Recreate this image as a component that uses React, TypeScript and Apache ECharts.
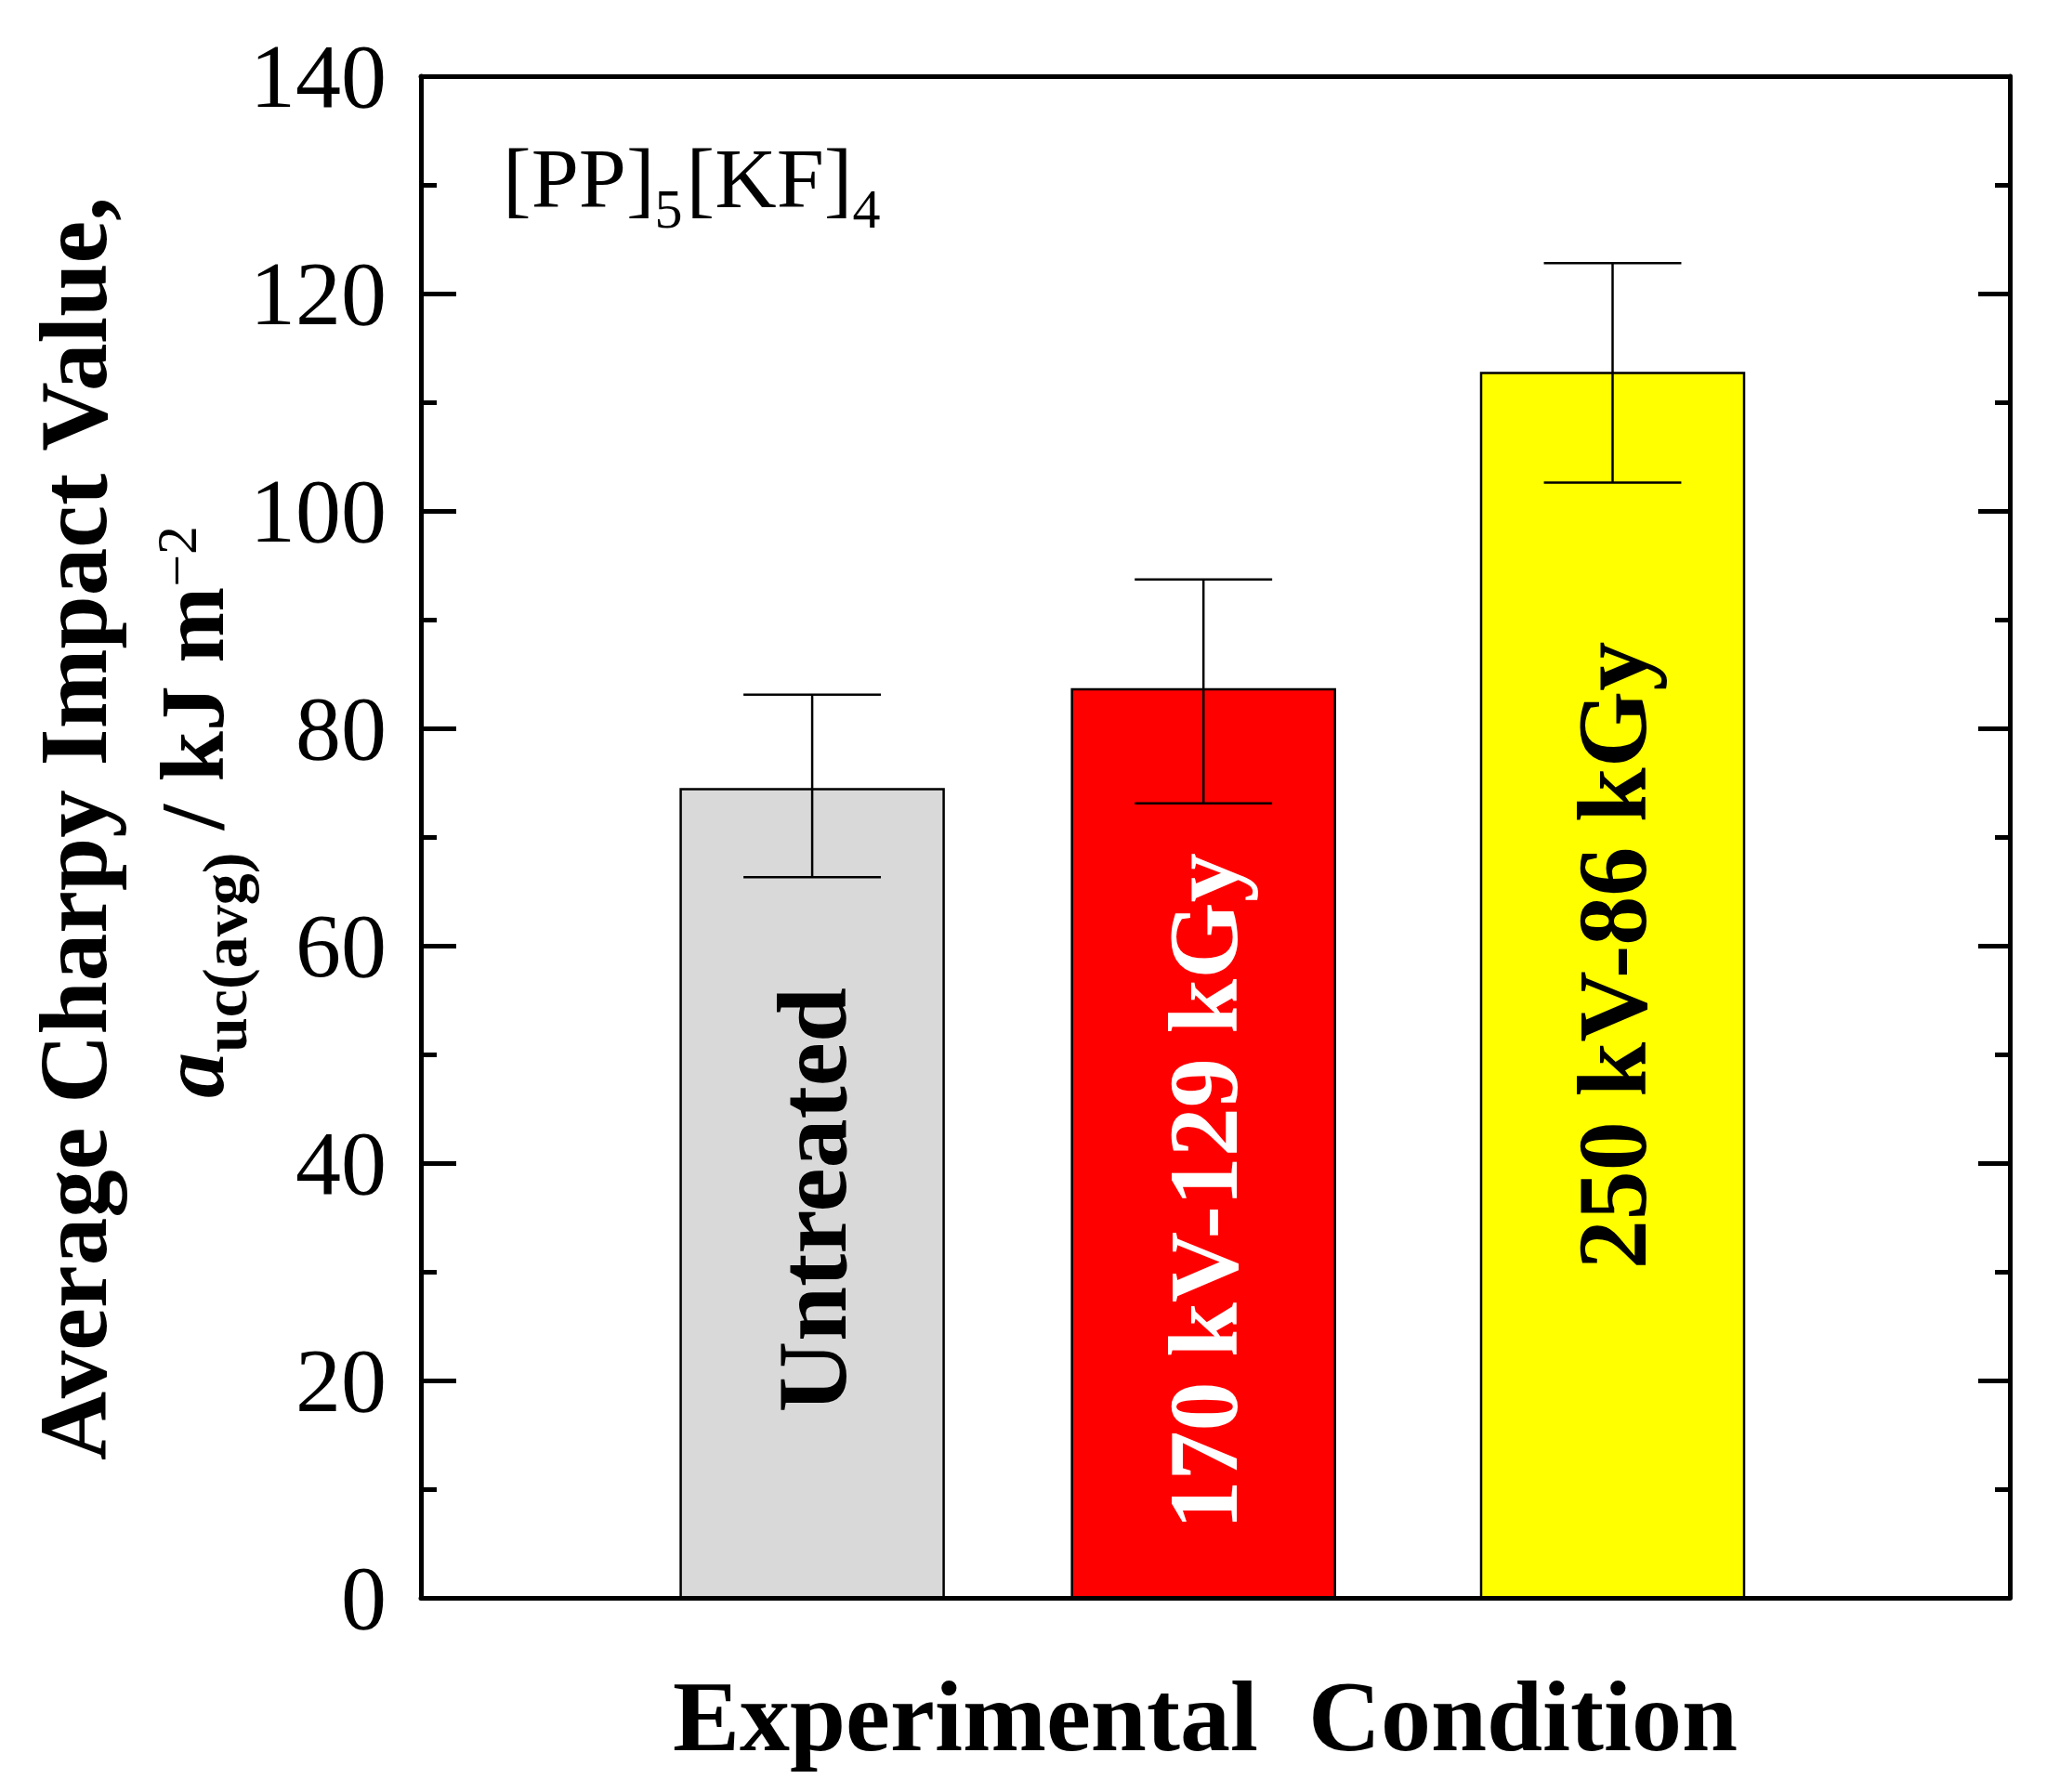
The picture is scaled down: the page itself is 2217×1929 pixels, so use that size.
import React, { useEffect, useRef } from 'react';
import * as echarts from 'echarts';

// ---------- data ----------
const categories = ['Untreated', '170 kV-129 kGy', '250 kV-86 kGy'];
const positions = [0.985, 1.97, 3.0];
const means = [74.4, 83.6, 112.7];
const errLow = [66.3, 73.1, 102.6];
const errHigh = [83.1, 93.7, 122.8];
const labelCenters = [36.6, 37.4, 59.1];
const yMin = 0;
const yMax = 140;
const yStep = 20;
const xMin = 0;
const xMax = 4;

// ---------- styles ----------
const barColors = ['#d9d9d9', '#ff0000', '#ffff00'];
const labelColors = ['#000000', '#ffffff', '#000000'];
const FONT = "'Liberation Serif', 'Times New Roman', serif";
const CENTRAL = 0.3375;
const BAR_W = 0.662;
const CAP_W = 0.346;

let ctx: CanvasRenderingContext2D | null = null;
function measure(text: string, size: number, weight: string, style: string) {
  if (!ctx) ctx = document.createElement('canvas').getContext('2d');
  if (!ctx) return text.length * size * 0.5;
  ctx.font = `${style} ${weight} ${size}px 'Liberation Serif'`;
  return ctx.measureText(text).width;
}

type Run = { text: string; size: number; weight?: string; style?: string; shift?: number; gap?: number };

function layoutRuns(runs: Run[], x0: number, y0: number, rotated: boolean) {
  const els: any[] = [];
  let u = 0;
  for (const r of runs) {
    const weight = r.weight || 'normal';
    const style = r.style || 'normal';
    const w = measure(r.text, r.size, weight, style);
    const c = (r.shift || 0) - CENTRAL * r.size;
    els.push({
      type: 'text',
      x: rotated ? x0 + c : x0 + u,
      y: rotated ? y0 - u : y0 + c,
      rotation: rotated ? Math.PI / 2 : 0,
      silent: true,
      style: {
        text: r.text,
        fill: '#000',
        fontSize: r.size,
        fontWeight: weight,
        fontStyle: style,
        fontFamily: FONT,
        align: 'left',
        verticalAlign: 'middle',
      },
    });
    u += w + (r.gap || 0);
  }
  return els;
}

function renderItem(params: any, api: any) {
  const i = params.dataIndex;
  const x = api.value(0);
  const top = api.coord([x, api.value(1)]);
  const cx = top[0];
  const yTop = top[1];
  const yBase = api.coord([x, 0])[1];
  const yLo = api.coord([x, api.value(2)])[1];
  const yHi = api.coord([x, api.value(3)])[1];
  const yLab = api.coord([x, api.value(4)])[1];
  const w = api.size([BAR_W, 0])[0];
  const cw = api.size([CAP_W, 0])[0];
  const ls = { stroke: '#000', lineWidth: 2.5 };
  return {
    type: 'group',
    children: [
      {
        type: 'rect',
        shape: { x: cx - w / 2, y: yTop, width: w, height: yBase - yTop },
        style: { fill: barColors[i], stroke: '#000', lineWidth: 2.5 },
      },
      { type: 'line', shape: { x1: cx, y1: yHi, x2: cx, y2: yLo }, style: ls },
      { type: 'line', shape: { x1: cx - cw / 2, y1: yHi, x2: cx + cw / 2, y2: yHi }, style: ls },
      { type: 'line', shape: { x1: cx - cw / 2, y1: yLo, x2: cx + cw / 2, y2: yLo }, style: ls },
      {
        type: 'text',
        x: cx,
        y: yLab,
        rotation: Math.PI / 2,
        style: {
          text: categories[i],
          fill: labelColors[i],
          fontFamily: FONT,
          fontSize: 106,
          fontWeight: 'bold',
          align: 'center',
          verticalAlign: 'middle',
        },
      },
    ],
  };
}

function buildOption() {
  const axisLine = { show: true, onZero: false, lineStyle: { color: '#000', width: 5 } };
  const data = positions.map((p, i) => [p, means[i], errLow[i], errHigh[i], labelCenters[i]]);

  const titleLine1 = layoutRuns(
    [{ text: 'Average Charpy Impact Value,', size: 103, weight: 'bold' }],
    114,
    1572,
    true
  );
  const titleLine2 = layoutRuns(
    [
      { text: 'a', size: 98, weight: 'bold', style: 'italic' },
      { text: 'uc(avg)', size: 68, weight: 'bold', shift: 25 },
      { text: ' / kJ m', size: 98, weight: 'bold' },
      { text: '\u22122', size: 62, weight: 'normal', shift: -29 },
    ],
    240,
    1182,
    true
  );
  const annotation = layoutRuns(
    [
      { text: '[PP]', size: 92 },
      { text: '5', size: 60, shift: 22, gap: 4 },
      { text: '[KF]', size: 92 },
      { text: '4', size: 60, shift: 22 },
    ],
    541,
    223,
    false
  );

  return {
    animation: false,
    backgroundColor: '#ffffff',
    grid: { left: 453, right: 54, top: 82, bottom: 209, containLabel: false, outerBoundsMode: 'none' },
    xAxis: [
      {
        type: 'value',
        min: xMin,
        max: xMax,
        position: 'bottom',
        z: 5,
        axisLine,
        axisTick: { show: false },
        axisLabel: { show: false },
        splitLine: { show: false },
        name: 'Experimental  Condition',
        nameLocation: 'middle',
        nameGap: 73,
        nameTextStyle: {
          fontFamily: FONT,
          fontSize: 108,
          fontWeight: 'bold',
          color: '#000',
          padding: [0, 22, 0, 0],
        },
      },
      {
        type: 'value',
        min: xMin,
        max: xMax,
        position: 'top',
        z: 5,
        axisLine,
        axisTick: { show: false },
        axisLabel: { show: false },
        splitLine: { show: false },
      },
    ],
    yAxis: [
      {
        type: 'value',
        min: yMin,
        max: yMax,
        interval: yStep,
        position: 'left',
        z: 5,
        axisLine,
        axisTick: { show: true, inside: true, length: 38, lineStyle: { color: '#000', width: 5 } },
        minorTick: { show: true, splitNumber: 2, length: 17, lineStyle: { color: '#000', width: 5 } },
        axisLabel: { show: true, margin: 37, fontFamily: FONT, fontSize: 98, color: '#000' },
        splitLine: { show: false },
      },
      {
        type: 'value',
        min: yMin,
        max: yMax,
        interval: yStep,
        position: 'right',
        z: 5,
        axisLine,
        axisTick: { show: true, inside: true, length: 34, lineStyle: { color: '#000', width: 5 } },
        minorTick: { show: true, splitNumber: 2, length: 16, lineStyle: { color: '#000', width: 5 } },
        axisLabel: { show: false },
        splitLine: { show: false },
      },
    ],
    series: [
      {
        type: 'custom',
        xAxisIndex: 0,
        yAxisIndex: 0,
        renderItem,
        encode: { x: 0, y: 1 },
        data,
        clip: false,
        z: 2,
      },
    ],
    graphic: { elements: [...titleLine1, ...titleLine2, ...annotation] },
  };
}

export default function App() {
  const ref = useRef<HTMLDivElement>(null);
  useEffect(() => {
    document.body.style.margin = '0';
    document.body.style.overflow = 'hidden';
    const chart = echarts.init(ref.current as HTMLDivElement, null, { renderer: 'svg' });
    chart.setOption(buildOption() as any);
    return () => {
      chart.dispose();
    };
  }, []);
  return <div ref={ref} style={{ width: 2217, height: 1929, background: '#ffffff' }} />;
}
